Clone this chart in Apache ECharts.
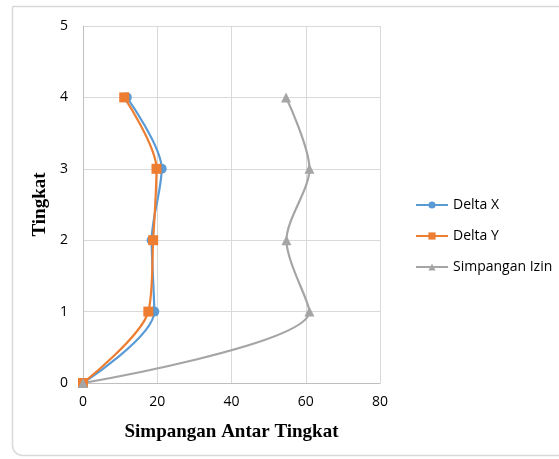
<!DOCTYPE html>
<html>
<head>
<meta charset="utf-8">
<script src="https://cdn.jsdelivr.net/npm/echarts@6/dist/echarts.min.js"></script>
<style>
  html, body { margin: 0; padding: 0; background: #fff; }
  #chart { width: 559px; height: 459px; }
</style>
</head>
<body>
<div id="chart"></div>
<script>
// tingkat (lantai)
const levels = [0, 1, 2, 3, 4];
const deltaX = [0, 19.2, 18.5, 21.2, 11.8];
const deltaY = [0, 17.6, 18.9, 19.8, 11.1];
const simpanganIzin = [0, 61, 54.8, 61, 54.7];
const xTicks = [0, 80, 20];
const yTicks = [0, 5, 1];

const pairs = (vals) => vals.map((v, i) => [v, levels[i]]);

const chart = echarts.init(document.getElementById('chart'));

const labelFont = 'Open Sans, Liberation Sans, sans-serif';
const titleFont = 'Liberation Serif, serif';

chart.setOption({
  animation: false,
  color: ['#5B9BD5', '#ED7D31', '#A5A5A5'],
  graphic: [{
    type: 'rect',
    shape: { x: 12.5, y: 6.5, width: 600, height: 449, r: [0, 0, 0, 10] },
    style: { fill: 'none', stroke: '#d9d9d9', lineWidth: 1.5 },
    silent: true
  }],
  grid: { left: 83, right: 179, top: 26, bottom: 76 },
  legend: {
    orient: 'vertical',
    left: 410,
    top: 193,
    itemWidth: 32,
    itemHeight: 9,
    itemGap: 17,
    textStyle: { fontFamily: labelFont, fontSize: 14, color: '#000' },
    data: ['Delta X', 'Delta Y', 'Simpangan Izin']
  },
  xAxis: {
    type: 'value',
    min: xTicks[0], max: xTicks[1], interval: xTicks[2],
    name: 'Simpangan Antar Tingkat',
    nameLocation: 'middle',
    nameGap: 40,
    nameTextStyle: { fontFamily: titleFont, fontWeight: 'bold', fontSize: 19, color: '#000' },
    axisLine: { show: true, lineStyle: { color: '#bfbfbf' } },
    axisTick: { show: false },
    axisLabel: { fontFamily: labelFont, fontSize: 14, color: '#000', margin: 12 },
    splitLine: { show: true, lineStyle: { color: '#d9d9d9' } }
  },
  yAxis: {
    type: 'value',
    min: yTicks[0], max: yTicks[1], interval: yTicks[2],
    name: 'Tingkat',
    nameLocation: 'middle',
    nameGap: 20,
    nameTextStyle: { fontFamily: titleFont, fontWeight: 'bold', fontSize: 19, color: '#000' },
    axisLine: { show: true, lineStyle: { color: '#bfbfbf' } },
    axisTick: { show: false },
    axisLabel: { fontFamily: labelFont, fontSize: 14, color: '#000', margin: 15 },
    splitLine: { show: true, lineStyle: { color: '#d9d9d9' } }
  },
  series: [
    {
      name: 'Delta X', type: 'line', smooth: 0.3,
      symbol: 'circle', symbolSize: 10,
      lineStyle: { width: 2.2 },
      data: pairs(deltaX)
    },
    {
      name: 'Delta Y', type: 'line', smooth: 0.3,
      symbol: 'rect', symbolSize: 10,
      lineStyle: { width: 2.2 },
      data: pairs(deltaY)
    },
    {
      name: 'Simpangan Izin', type: 'line', smooth: 0.3,
      symbol: 'triangle', symbolSize: 10,
      lineStyle: { width: 2.2 },
      data: pairs(simpanganIzin)
    }
  ]
});
</script>
</body>
</html>
